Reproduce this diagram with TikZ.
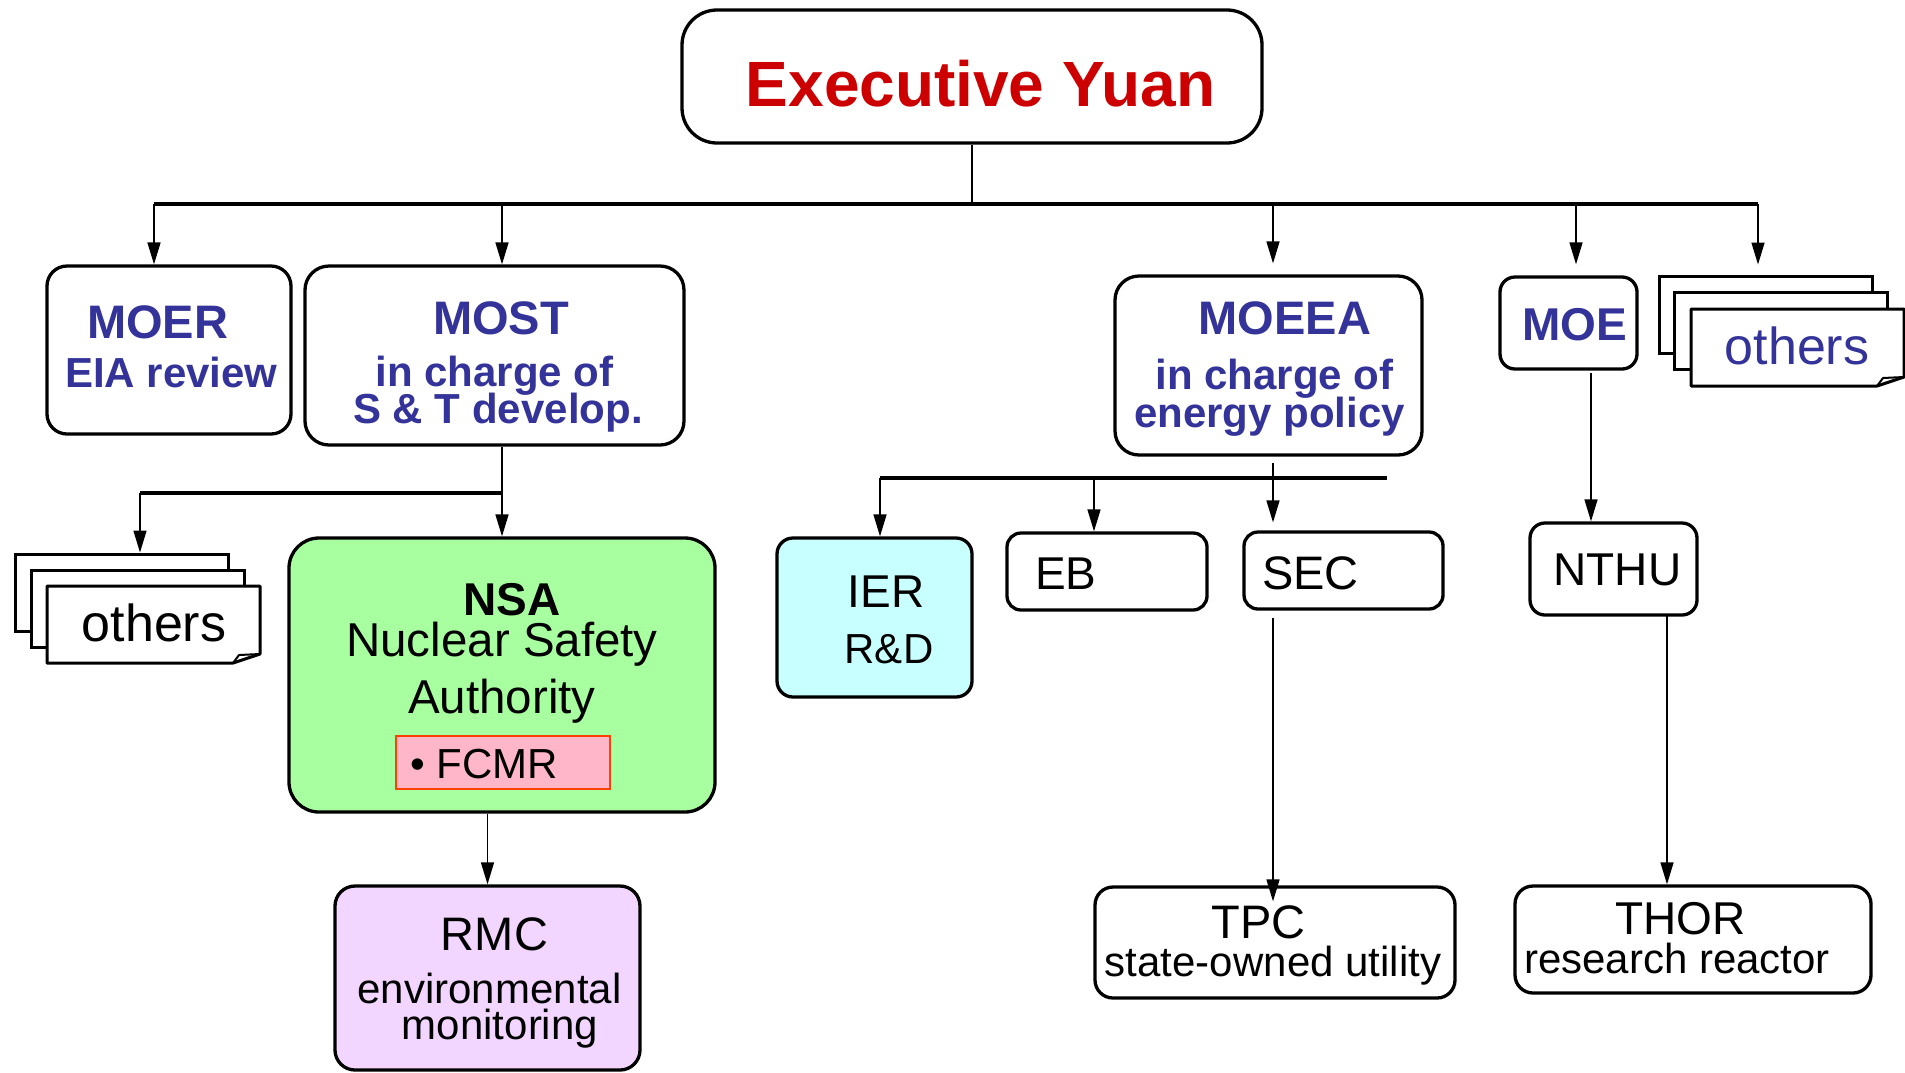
\documentclass[tikz,border=0pt]{standalone}
\usepackage{fontspec}
\setmainfont{Liberation Sans}
\usetikzlibrary{arrows.meta,calc}
\definecolor{hblue}{RGB}{51,51,153}
\definecolor{hred}{RGB}{204,0,0}
\definecolor{nsagreen}{RGB}{168,255,160}
\definecolor{fcmrpink}{RGB}{255,182,200}
\definecolor{fcmredge}{RGB}{255,64,0}
\definecolor{iercyan}{RGB}{200,255,255}
\definecolor{rmcviolet}{RGB}{242,214,255}
\newcommand{\fsz}[1]{\fontsize{#1}{#1}\selectfont}
\begin{document}
\begin{tikzpicture}[x=1pt,y=-1pt,
  orgbox/.style={draw, line width=3.3pt, rounded corners=18pt, fill=white, inner sep=0pt},
  page/.style={draw, line width=3pt, fill=white, inner sep=0pt, minimum width=213pt, minimum height=77pt},
  txt/.style={anchor=base, inner sep=0pt},
  head/.style={txt, text=hblue, font=\fsz{47}\bfseries},
  sub/.style={txt, text=hblue, font=\fsz{42}\bfseries},
  plain/.style={txt, text=black, font=\fsz{46}},
  small/.style={txt, text=black, font=\fsz{42}},
  conn/.style={line width=1.5pt},
  bar/.style={line width=3.5pt},
  arr/.style={conn, -{Triangle[length=22pt,width=13pt]}}]
\useasboundingbox (0,0) rectangle (1905,1072);
\clip (0,0) rectangle (1905,1072);

% boxes
\node[orgbox, rounded corners=35pt, minimum width=580pt, minimum height=133pt] (ey) at (972,76.5) {};
\node[orgbox, rounded corners=20pt, minimum width=244pt, minimum height=168pt] (moer) at (169,350) {};
\node[orgbox, rounded corners=24pt, minimum width=379pt, minimum height=179pt] (most) at (494.5,355.5) {};
\node[orgbox, rounded corners=24pt, minimum width=307pt, minimum height=179pt] (moeea) at (1268.5,365.5) {};
\node[orgbox, rounded corners=15pt, minimum width=137pt, minimum height=92pt] (moe) at (1568.5,323) {};
\node[orgbox, rounded corners=30pt, fill=nsagreen, minimum width=426pt, minimum height=274pt] (nsa) at (502,675) {};
\node[draw=fcmredge, fill=fcmrpink, line width=1.5pt, minimum width=214pt, minimum height=53pt, inner sep=0pt] (fcmr) at (503,762.5) {};
\node[orgbox, rounded corners=16pt, fill=iercyan, minimum width=195pt, minimum height=159pt] (ier) at (874.5,617.5) {};
\node[orgbox, rounded corners=14pt, minimum width=200pt, minimum height=77pt] (eb) at (1107,571.5) {};
\node[orgbox, rounded corners=14pt, minimum width=199pt, minimum height=77pt] (sec) at (1343.5,570.5) {};
\node[orgbox, rounded corners=15pt, minimum width=167pt, minimum height=92pt] (nthu) at (1613.5,569) {};
\node[orgbox, rounded corners=18pt, minimum width=360pt, minimum height=111pt] (tpc) at (1275,942.5) {};
\node[orgbox, rounded corners=18pt, minimum width=356pt, minimum height=107pt] (thor) at (1693,939.5) {};
\node[orgbox, rounded corners=20pt, fill=rmcviolet, minimum width=305pt, minimum height=184pt] (rmc) at (487.5,978) {};

% stacked "others" pages, right
\node[page] (othRb) at (1765.5,314.5) {};
\node[page] (othRm) at (1780.5,330.5) {};
\node[page, draw=none, outer sep=0pt] (othRf) at (1797.5,347.5) {};
\draw[line width=3pt, fill=white, line join=round] (othRf.north west) -- (othRf.north east) -- ($(othRf.south east)+(0,-9)$) -- ($(othRf.south east)+(-27,0)$) -- (othRf.south west) -- cycle;
\draw[line width=2pt, line join=round] ($(othRf.south east)+(-27,0)$) -- ($(othRf.south east)+(-21,-8)$) -- ($(othRf.south east)+(0,-9)$);
% stacked "others" pages, left
\node[page] (othLb) at (121.5,592.5) {};
\node[page] (othLm) at (137.5,608.5) {};
\node[page, draw=none, outer sep=0pt] (othLf) at (153.5,624.5) {};
\draw[line width=3pt, fill=white, line join=round] (othLf.north west) -- (othLf.north east) -- ($(othLf.south east)+(0,-9)$) -- ($(othLf.south east)+(-27,0)$) -- (othLf.south west) -- cycle;
\draw[line width=2pt, line join=round] ($(othLf.south east)+(-27,0)$) -- ($(othLf.south east)+(-21,-8)$) -- ($(othLf.south east)+(0,-9)$);

% texts
\node[txt, font=\fsz{64}\bfseries, text=hred] (ey-t) at (980.5,106) {Executive Yuan};
\node[head] (moer-t1) at (157.5,338) {MOER};
\node[sub] (moer-t2) at (171.5,387) {EIA review};
\node[head] (most-t1) at (501,334) {MOST};
\node[sub] (most-t2) at (494.5,386) {in charge of};
\node[sub] (most-t3) at (498,423) {S \& T develop.};
\node[head] (moeea-t1) at (1285,334) {MOEEA};
\node[sub] (moeea-t2) at (1274.5,389) {in charge of};
\node[sub] (moeea-t3) at (1269.5,427) {energy policy};
\node[head, font=\fsz{46}\bfseries] (moe-t) at (1574.5,340) {MOE};
\node[txt, font=\fsz{46}\bfseries] (nsa-t1) at (512,615) {NSA};
\node[plain, font=\fsz{47.5}] (nsa-t2) at (502,656) {Nuclear Safety};
\node[plain, font=\fsz{47.5}] (nsa-t3) at (502,713) {Authority};
\node[txt, anchor=base west, font=\fsz{42}] (fcmr-t) at (410,778) {• FCMR};
\node[plain] (ier-t1) at (886,607) {IER};
\node[small] (ier-t2) at (889,663) {R\&D};
\node[plain, anchor=base west] (eb-t) at (1035,589) {EB};
\node[plain, anchor=base west, font=\fsz{47}] (sec-t) at (1262,589) {SEC};
\node[plain] (nthu-t) at (1617.5,585) {NTHU};
\node[plain, font=\fsz{47}] (tpc-t1) at (1258.5,938) {TPC};
\node[small] (tpc-t2) at (1273,976) {state-owned utility};
\node[plain] (thor-t1) at (1680.5,934) {THOR};
\node[small] (thor-t2) at (1677,973) {research reactor};
\node[plain, font=\fsz{47}] (rmc-t1) at (494.5,950) {RMC};
\node[small] (rmc-t2) at (489.5,1003) {environmental};
\node[small] (rmc-t3) at (500,1039) {monitoring};
\node[txt, font=\fsz{52}] (othL-t) at (154,641) {others};
\node[txt, font=\fsz{52}, text=hblue] (othR-t) at (1797,364) {others};

% connectors: top bus
\coordinate (busL) at (154,204);
\coordinate (busR) at (1758,204);
\coordinate (d2) at (502,204);
\coordinate (d3) at (1273,204);
\coordinate (d4) at (1576,204);
\draw[conn] (ey.south) -- (ey.south |- busL);
\draw[bar] (busL) -- (busR);
\draw[arr] (busL) -- (busL |- moer.north);
\draw[arr] (d2) -- (d2 |- most.north);
\draw[arr, shorten >=11pt] (d3) -- (d3 |- moeea.north);
\draw[arr, shorten >=11pt] (d4) -- (d4 |- moe.north);
\draw[arr, shorten >=10pt] (busR) -- (busR |- othRb.north);

% MOST branch
\coordinate (j1) at (502,493);
\coordinate (j2) at (140,493);
\draw[conn] (j1 |- most.south) -- (j1);
\draw[arr] (j1) -- (j1 |- nsa.north);
\draw[bar] (j2) -- (j1);
\draw[arr] (j2) -- (j2 |- othLb.north);
\draw[arr] (rmc.north |- nsa.south) -- (rmc.north);

% MOEEA branch
\coordinate (m0) at (1273,463);
\coordinate (h1) at (880,478);
\coordinate (h2) at (1387,478);
\coordinate (h3) at (1094,478);
\draw[bar] (h1) -- (h2);
\draw[arr, shorten >=8pt] (m0) -- (m0 |- sec.north);
\draw[arr] (h1) -- (h1 |- ier.north);
\draw[arr] (h3) -- (h3 |- eb.north);
\draw[arr, shorten <=7pt, shorten >=-16pt] (m0 |- sec.south) -- (m0 |- tpc.north);

% MOE branch
\coordinate (n0) at (1591,373);
\coordinate (n1) at (1667,616);
\draw[arr] (n0) -- (n0 |- nthu.north);
\draw[arr] (n1) -- (n1 |- thor.north);
\end{tikzpicture}
\end{document}
